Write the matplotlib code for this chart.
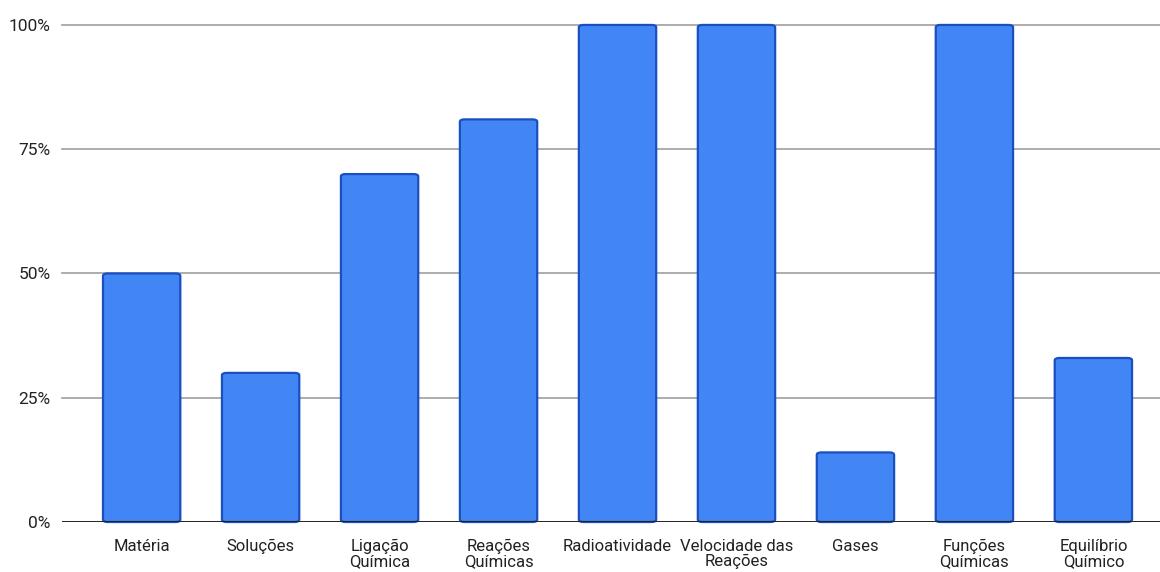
import matplotlib
matplotlib.use("Agg")
import matplotlib.pyplot as plt
from matplotlib.patches import FancyBboxPatch
from matplotlib.ticker import FixedLocator

categories = ["Matéria", "Soluções", "Ligação\nQuímica", "Reações\nQuímicas",
              "Radioatividade", "Velocidade das\nReações", "Gases",
              "Funções\nQuímicas", "Equilíbrio\nQuímico"]
values = [50, 30, 70, 81, 100, 100, 14, 100, 33]
y_ticks = [0, 25, 50, 75, 100]
y_labels = ["0%", "25%", "50%", "75%", "100%"]

plt.rcParams["font.family"] = ["Roboto", "DejaVu Sans"]

fig = plt.figure(figsize=(11.6, 5.72), dpi=100)
ax = fig.add_axes([0.0534, 0.0874, 0.9466, 0.869])

face = "#4285f4"
edge = "#1a4fc0"
width = 0.65
x = list(range(len(categories)))

bars = ax.bar(x, values, width=width, color=face, edgecolor="none", zorder=3)
# redraw each bar with slightly rounded corners and a darker outline
for b in bars:
    b.set_visible(False)
    patch = FancyBboxPatch((b.get_x(), 0), b.get_width(), b.get_height(),
                           boxstyle="round,pad=0,rounding_size=0.04",
                           mutation_aspect=12,
                           facecolor=face, edgecolor=edge, linewidth=1.6,
                           zorder=3, clip_on=False)
    ax.add_patch(patch)

ax.set_xlim(-0.67, 8.56)
ax.set_ylim(0, 100)
ax.yaxis.set_major_locator(FixedLocator(y_ticks))
ax.set_yticklabels(y_labels, fontsize=12.5, color="#222222")
ax.set_xticks(x)
ax.set_xticklabels(categories, fontsize=12, color="#222222", linespacing=1.05)
ax.tick_params(axis="both", length=0)
ax.tick_params(axis="y", pad=8)
ax.tick_params(axis="x", pad=12)

for y in y_ticks[1:]:
    ax.axhline(y, color="#9e9e9e", linewidth=1.2, zorder=1, clip_on=False)
ax.axhline(0, color="#222222", linewidth=1.4, zorder=4)

for s in ax.spines.values():
    s.set_visible(False)

fig.savefig("out.png", dpi=100, facecolor="white")
